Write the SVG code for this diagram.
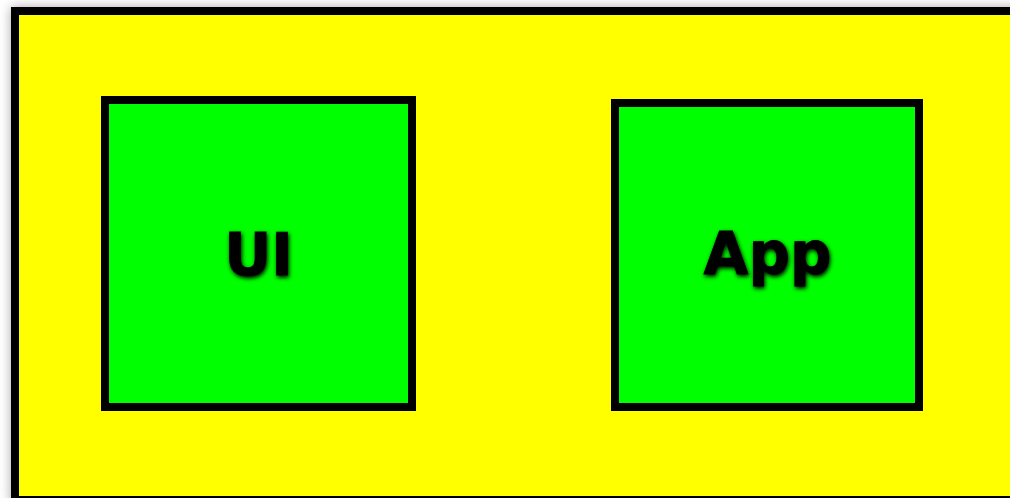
<svg xmlns="http://www.w3.org/2000/svg" width="1010" height="498" viewBox="0 0 1010 498">
  <style>
    .box { fill: #00ff00; stroke: #000000; stroke-width: 8; }
    .label { font-weight: bold; font-size: 58px; fill: #000000; stroke: #000000; stroke-width: 0.8; text-anchor: middle; }
  </style>
  <defs>
    <filter id="outerShadow" x="-5%" y="-5%" width="110%" height="110%">
      <feGaussianBlur in="SourceAlpha" stdDeviation="6"/>
      <feComponentTransfer><feFuncA type="linear" slope="0.35"/></feComponentTransfer>
      <feMerge><feMergeNode/><feMergeNode in="SourceGraphic"/></feMerge>
    </filter>
    <filter id="textShadow" x="-20%" y="-20%" width="140%" height="140%">
      <feGaussianBlur in="SourceAlpha" stdDeviation="2.2"/>
      <feOffset dx="0.5" dy="1.5"/>
      <feComponentTransfer><feFuncA type="linear" slope="1"/></feComponentTransfer>
      <feMerge><feMergeNode/><feMergeNode in="SourceGraphic"/></feMerge>
    </filter>
  </defs>
  <rect x="0" y="0" width="1010" height="498" fill="#ffffff"/>
  <g id="container">
    <rect x="15" y="11" width="1020" height="489" fill="#ffff00" stroke="#000000" stroke-width="8" filter="url(#outerShadow)"/>
  </g>
  <g id="connectors"></g>
  <g id="node-ui">
    <rect class="box" x="105" y="100" width="307" height="307"/>
    <text class="label" x="258.5" y="275" font-family="DejaVu Sans" filter="url(#textShadow)">UI</text>
  </g>
  <g id="node-app">
    <rect class="box" x="615" y="103" width="304" height="304"/>
    <text class="label" x="767.5" y="274" font-family="DejaVu Sans" filter="url(#textShadow)">App</text>
  </g>
</svg>
